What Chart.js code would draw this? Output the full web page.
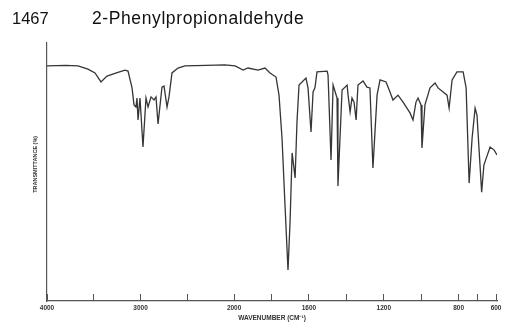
<!DOCTYPE html>
<html lang="en">
<head>
<meta charset="UTF-8">
<title>1467 2-Phenylpropionaldehyde</title>
<script src="https://cdn.jsdelivr.net/npm/chart.js@4.4.1/dist/chart.umd.min.js"></script>
<style>
    body { margin: 0; background: #fff; }
    #wrap { position: relative; width: 505px; height: 324px; }
    #heading { position: absolute; top: 10px; left: 0; font: 17.5px 'Liberation Sans', Arial, sans-serif; line-height: 1; color: #111; white-space: nowrap; }
    #heading .num { position: absolute; left: 12px; font-size: 16.5px; }
    #heading .name { position: absolute; left: 92px; letter-spacing: 0.6px; }
    canvas { position: absolute; left: 0; top: 0; }
</style>
</head>
<body>
<div id="wrap">
    <canvas id="irChart" width="505" height="324"></canvas>
    <div id="heading"><span class="num">1467</span><span class="name">2-Phenylpropionaldehyde</span></div>
</div>
<script>
    // spectrum (cm-1, %T)
    const wavenumbers = [4000, 3800, 3669, 3562, 3487, 3423, 3359, 3250, 3166, 3134, 3091, 3070, 3049, 3038, 3027, 3006, 2974, 2942, 2920, 2888, 2856, 2835, 2813, 2771, 2749, 2717, 2696, 2664, 2600, 2525, 2300, 2100,
        1995, 1952, 1926, 1872, 1835, 1808, 1776, 1760, 1744, 1728, 1712, 1701, 1690, 1674, 1664, 1653, 1616, 1605, 1589, 1578, 1568, 1557, 1503, 1498, 1482, 1471, 1450, 1445, 1423, 1396, 1391, 1380, 1370, 1359, 1348, 1338,
        1311, 1290, 1274, 1258, 1236, 1220, 1188, 1167, 1151, 1124, 1097, 1060, 1044, 1028, 1017, 1001, 996, 980, 953, 926, 910, 883, 862, 851, 835, 809, 776, 760, 744, 728, 712, 702, 677, 665, 632, 610, 595];
    const transmittance = [91.1, 91.3, 91.1, 89.9, 88.4, 84.9, 87.2, 88.5, 89.5, 89.1, 82.6, 76.0, 75.2, 78.7, 70.2, 78.7, 59.7, 78.7, 75.2, 79.1, 77.9, 79.1, 68.6, 82.9, 83.3, 75.2, 79.1, 88.4, 90.3, 91.1, 91.3, 91.5,
        91.1, 89.5, 90.3, 89.5, 90.3, 88.4, 86.8, 79.8, 63.2, 37.2, 12.0, 30.6, 57.4, 47.7, 69.4, 83.7, 86.4, 82.6, 65.5, 81.0, 82.6, 88.8, 89.1, 87.6, 54.7, 83.7, 78.7, 44.6, 81.8, 83.7, 79.8, 73.3, 78.7, 77.1, 70.2, 83.7,
        85.3, 82.9, 82.6, 51.6, 79.8, 85.7, 84.9, 81.0, 77.9, 79.8, 77.1, 72.9, 70.2, 77.1, 78.7, 76.0, 59.3, 76.0, 82.6, 84.5, 82.6, 81.0, 79.8, 74.8, 85.7, 88.8, 88.8, 82.6, 45.7, 63.2, 74.8, 72.1, 42.2, 52.7, 59.7, 58.5, 56.6];
    const tickWavenumbers = [4000, 3500, 3000, 2500, 2000, 1800, 1600, 1400, 1200, 1000, 800, 700, 600];
    const labeledWavenumbers = [4000, 3000, 2000, 1600, 1200, 800, 600];

    // the chart changes scale at 2000 cm-1 (twice as wide below it)
    function toAxis(w) {
        return w >= 2000 ? 4000 - w : 2000 + 2 * (2000 - w);
    }
    function fromAxis(u) {
        return u <= 2000 ? 4000 - u : 2000 - (u - 2000) / 2;
    }

    const points = wavenumbers.map((w, i) => ({ x: toAxis(w), y: transmittance[i] }));
    const smallFont = { family: "'Liberation Sans', Arial, sans-serif", size: 6.5, weight: 'bold' };

    new Chart(document.getElementById('irChart'), {
        type: 'line',
        data: {
            datasets: [{
                data: points,
                borderColor: '#353535', borderWidth: 1.3,
                pointRadius: 0, tension: 0, fill: false
            }]
        },
        options: {
            responsive: false, animation: false, devicePixelRatio: 1,
            layout: { padding: { top: 43, right: 8, left: 0, bottom: 0 } },
            plugins: { legend: { display: false }, tooltip: { enabled: false }, title: { display: false } },
            scales: {
                x: {
                    type: 'linear', min: 0, max: toAxis(595),
                    afterFit: s => { s.height = 23; s.paddingLeft = 0; s.paddingRight = 0; },
                    afterBuildTicks: s => { s.ticks = tickWavenumbers.map(w => ({ value: toAxis(w) })); },
                    ticks: {
                        autoSkip: false, maxRotation: 0, padding: 10, color: '#333', font: smallFont,
                        callback: v => {
                            const w = Math.round(fromAxis(v));
                            return labeledWavenumbers.includes(w) ? String(w) : '';
                        }
                    },
                    grid: { drawOnChartArea: false, drawTicks: true, tickLength: -7, color: '#555', lineWidth: 1 },
                    border: { display: true, color: '#555', width: 1.2 },
                    title: { display: true, text: 'WAVENUMBER (CM⁻¹)', color: '#333', font: smallFont, padding: { top: 0, bottom: 1.5 } }
                },
                y: {
                    min: 0, max: 100,
                    afterFit: s => { s.width = 47; s.paddingTop = 0; s.paddingBottom = 0; },
                    ticks: { display: false },
                    grid: { display: false },
                    border: { display: true, color: '#555', width: 1.2 },
                    title: { display: true, text: '          TRANSMITTANCE (%)', color: '#333', font: { family: "'Liberation Sans', Arial, sans-serif", size: 5.5, weight: 'bold' }, padding: { top: 32, bottom: 0 } }
                }
            }
        }
    });
</script>
</body>
</html>
